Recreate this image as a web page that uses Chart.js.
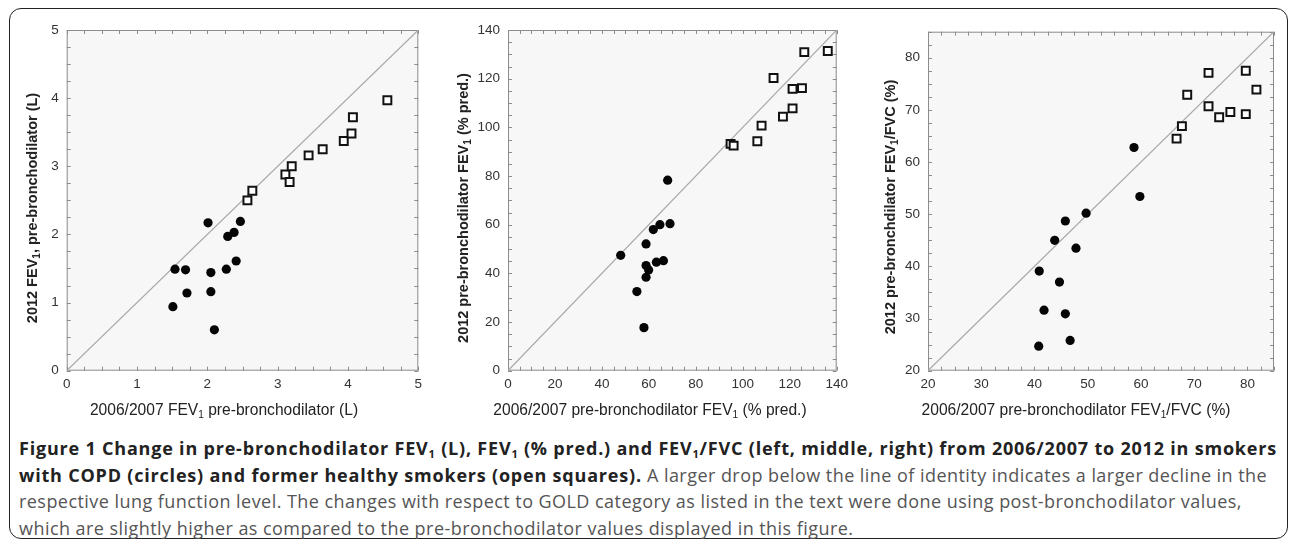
<!DOCTYPE html>
<html>
<head>
<meta charset="utf-8">
<script src="https://cdn.jsdelivr.net/npm/chart.js@4.4.0/dist/chart.umd.min.js"></script>
<style>
  body { margin: 0; width: 1290px; height: 542px; background: #fff; position: relative; overflow: hidden; font-family: "Liberation Sans", Arial, sans-serif; }
  #frame { position: absolute; left: 9px; top: 8px; width: 1277px; height: 529px; border: 1.5px solid #222; border-radius: 12px; }
  .panel { position: absolute; top: 0; }
  .xt, .yt { position: absolute; width: 400px; height: 18px; line-height: 18px; text-align: center; color: #222; white-space: nowrap; }
  .xt { font-size: 15.6px; }
  .yt { font-size: 14.5px; font-weight: bold; transform: rotate(-90deg); }
  .xt sub, .yt sub { font-size: 10px; vertical-align: -3px; line-height: 0; }
  #caption { position: absolute; left: 19px; top: 435px; font-family: "Open Sans", sans-serif; font-size: 18px; letter-spacing: 0.45px; line-height: 26.7px; color: #555; white-space: nowrap; }
  #caption b { color: #222; letter-spacing: 0.8px; }
  #caption sub { font-size: 11px; vertical-align: -3px; line-height: 0; }
</style>
</head>
<body>
<div id="frame"></div>
<canvas id="c1" class="panel" width="430" height="425" style="left:0px"></canvas>
<canvas id="c2" class="panel" width="430" height="425" style="left:430px"></canvas>
<canvas id="c3" class="panel" width="430" height="425" style="left:860px"></canvas>

<div class="xt" style="left:24px;top:401px">2006/2007 FEV<sub>1</sub> pre-bronchodilator (L)</div>
<div class="xt" style="left:450px;top:401px">2006/2007 pre-bronchodilator FEV<sub>1</sub> (% pred.)</div>
<div class="xt" style="left:876px;top:401px">2006/2007 pre-bronchodilator FEV<sub>1</sub>/FVC (%)</div>
<div class="yt" style="left:-168px;top:199px">2012 FEV<sub>1</sub>, pre-bronchodilator (L)</div>
<div class="yt" style="left:263px;top:199px">2012 pre-bronchodilator FEV<sub>1</sub> (% pred.)</div>
<div class="yt" style="left:690px;top:198px">2012 pre-bronchdilator FEV<sub>1</sub>/FVC (%)</div>

<div id="caption">
  <b>Figure 1 Change in pre-bronchodilator FEV<sub>1</sub> (L), FEV<sub>1</sub> (% pred.) and FEV<sub>1</sub>/FVC (left, middle, right) from 2006/2007 to 2012 in smokers</b><br>
  <b>with COPD (circles) and former healthy smokers (open squares).</b> A larger drop below the line of identity indicates a larger decline in the<br>
  respective lung function level. The changes with respect to GOLD category as listed in the text were done using post-bronchodilator values,<br>
  which are slightly higher as compared to the pre-bronchodilator values displayed in this figure.
</div>
<script>
// left panel: FEV1 (L)
const litersCopdX = [1.51, 1.54, 1.69, 1.71, 2.01, 2.05, 2.05, 2.10, 2.27, 2.29, 2.38, 2.41, 2.47];
const litersCopdY = [0.94, 1.49, 1.48, 1.14, 2.17, 1.44, 1.16, 0.60, 1.49, 1.97, 2.03, 1.61, 2.19];
const litersHealthyX = [2.57, 2.64, 3.11, 3.17, 3.20, 3.44, 3.64, 3.94, 4.05, 4.07, 4.56];
const litersHealthyY = [2.50, 2.64, 2.88, 2.77, 3.00, 3.16, 3.25, 3.37, 3.48, 3.72, 3.97];

// middle panel: FEV1 (% pred.)
const predCopdX = [48.0, 54.9, 58.8, 58.8, 59.9, 58.8, 61.9, 63.2, 64.7, 66.2, 68.0, 69.0, 57.9];
const predCopdY = [47.4, 32.5, 52.1, 43.2, 41.4, 38.4, 58.0, 44.6, 60.0, 45.2, 78.3, 60.4, 17.7];
const predHealthyX = [94.8, 96.1, 106.2, 108.0, 113.1, 117.1, 121.2, 121.2, 125.2, 126.2, 136.2];
const predHealthyY = [93.2, 92.5, 94.3, 100.7, 120.3, 104.4, 107.8, 115.8, 116.1, 130.9, 131.4];

// right panel: FEV1/FVC (%)
const ratioCopdX = [58.7, 59.8, 49.7, 45.8, 43.8, 47.8, 40.9, 44.7, 41.8, 45.8, 40.8, 46.7];
const ratioCopdY = [62.8, 53.4, 50.2, 48.7, 45.0, 43.5, 39.1, 37.0, 31.6, 30.9, 24.7, 25.8];
const ratioHealthyX = [66.7, 67.7, 68.7, 72.7, 72.7, 74.7, 76.8, 79.7, 79.7, 81.7];
const ratioHealthyY = [64.5, 66.9, 72.9, 77.1, 70.7, 68.6, 69.6, 69.2, 77.5, 73.9];

const axisMin = [0, 0, 20];
const axisMax = [5, 140, 85];
const axisStep = [1, 20, 10];

function pairs(xs, ys) {
  return xs.map((x, i) => ({ x: x, y: ys[i] }));
}

// plot background, grey frame and inward tick marks on all four sides
const framePlugin = {
  id: "frame",
  beforeDraw(chart) {
    const a = chart.chartArea;
    chart.ctx.save();
    chart.ctx.fillStyle = "#f7f7f7";
    chart.ctx.fillRect(a.left, a.top, a.right - a.left, a.bottom - a.top);
    chart.ctx.restore();
  },
  beforeDatasetsDraw(chart) {
    const a = chart.chartArea;
    const ctx = chart.ctx;
    const xs = chart.scales.x, ys = chart.scales.y;
    ctx.save();
    ctx.strokeStyle = "#8c8c8c";
    ctx.lineWidth = 1;
    ctx.strokeRect(a.left + 0.5, a.top + 0.5, a.right - a.left - 1, a.bottom - a.top - 1);
    const minor = chart.options.minorStep;
    ctx.beginPath();
    for (let v = xs.min; v <= xs.max + 1e-9; v += minor) {
      const px = Math.round(xs.getPixelForValue(v)) + 0.5;
      ctx.moveTo(px, a.bottom); ctx.lineTo(px, a.bottom - 4);
      ctx.moveTo(px, a.top); ctx.lineTo(px, a.top + 4);
    }
    for (let v = ys.min; v <= ys.max + 1e-9; v += minor) {
      const py = Math.round(ys.getPixelForValue(v)) + 0.5;
      ctx.moveTo(a.left, py); ctx.lineTo(a.left + 4, py);
      ctx.moveTo(a.right, py); ctx.lineTo(a.right - 4, py);
    }
    ctx.stroke();
    ctx.restore();
  }
};

function makePanel(id, k, copd, healthy, box) {
  const lo = axisMin[k], hi = axisMax[k];
  new Chart(document.getElementById(id), {
    type: "scatter",
    data: {
      datasets: [
        {
          type: "line",
          data: [{ x: lo, y: lo }, { x: hi, y: hi }],
          borderColor: "#a8a8a8",
          borderWidth: 1.2,
          pointRadius: 0,
          order: 3
        },
        {
          data: healthy,
          pointStyle: "rect",
          pointRadius: 5.6,
          backgroundColor: "#ffffff",
          borderColor: "#111",
          borderWidth: 2,
          order: 2
        },
        {
          data: copd,
          pointStyle: "circle",
          pointRadius: 4.6,
          backgroundColor: "#050505",
          borderColor: "#050505",
          borderWidth: 0,
          order: 1
        }
      ]
    },
    options: {
      responsive: false,
      animation: false,
      minorStep: axisStep[k] / 4,
      layout: { padding: { top: box.top, right: box.right, left: 0, bottom: 0 } },
      plugins: { legend: { display: false }, tooltip: { enabled: false } },
      scales: {
        x: {
          type: "linear",
          min: lo,
          max: hi,
          afterFit(s) { s.height = 54.3; },
          grid: { display: false, drawTicks: false },
          border: { display: false },
          ticks: { stepSize: axisStep[k], includeBounds: false, padding: 5, color: "#333", font: { size: 13.5, family: "Liberation Sans" } }
        },
        y: {
          type: "linear",
          min: lo,
          max: hi,
          afterFit(s) { s.width = box.yw; },
          grid: { display: false, drawTicks: false },
          border: { display: false },
          ticks: { stepSize: axisStep[k], includeBounds: false, padding: 8, color: "#333", font: { size: 13.5, family: "Liberation Sans" } }
        }
      }
    },
    plugins: [framePlugin]
  });
}

makePanel("c1", 0, pairs(litersCopdX, litersCopdY), pairs(litersHealthyX, litersHealthyY), { top: 30, right: 11.7, yw: 66.7 });
makePanel("c2", 1, pairs(predCopdX, predCopdY), pairs(predHealthyX, predHealthyY), { top: 30, right: 23.3, yw: 78 });
makePanel("c3", 2, pairs(ratioCopdX, ratioCopdY), pairs(ratioHealthyX, ratioHealthyY), { top: 31.7, right: 16, yw: 68 });
</script>
</body>
</html>
